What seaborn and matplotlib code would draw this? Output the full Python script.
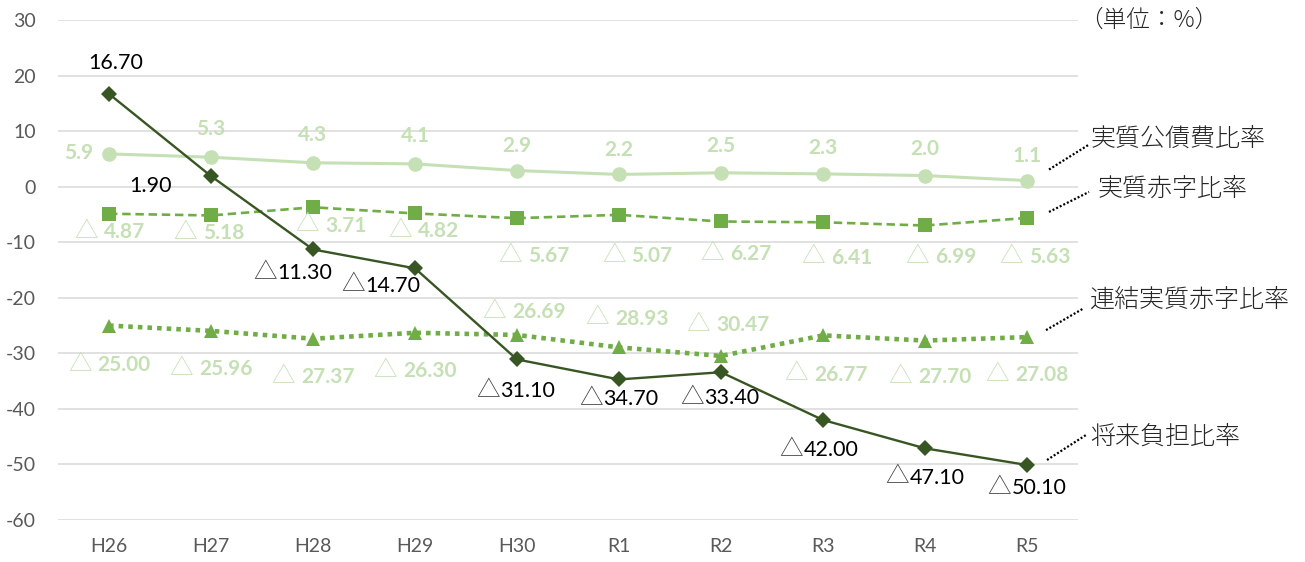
import numpy as np
import pandas as pd
import matplotlib
matplotlib.use("Agg")
import matplotlib.pyplot as plt
import seaborn as sns
from matplotlib.offsetbox import TextArea, HPacker, AnnotationBbox
from matplotlib.lines import Line2D

# ---------------- data ----------------
years = ["H26", "H27", "H28", "H29", "H30", "R1", "R2", "R3", "R4", "R5"]
future_burden = [16.70, 1.90, -11.30, -14.70, -31.10, -34.70, -33.40, -42.00, -47.10, -50.10]
debt_service = [5.9, 5.3, 4.3, 4.1, 2.9, 2.2, 2.5, 2.3, 2.0, 1.1]
real_deficit = [-4.87, -5.18, -3.71, -4.82, -5.67, -5.07, -6.27, -6.41, -6.99, -5.63]
consolidated_deficit = [-25.00, -25.96, -27.37, -26.30, -26.69, -28.93, -30.47, -26.77, -27.70, -27.08]
series_names = ["実質公債費比率", "実質赤字比率", "連結実質赤字比率", "将来負担比率"]
y_ticks = [30, 20, 10, 0, -10, -20, -30, -40, -50, -60]
unit_label = "（単位：%）"

# ---------------- label placement (pixel offsets: dx right, dy down) ----------------
off_future = [(7, -30), (-60, 11), (-20, 24), (-34, 18), (-1, 32), (0, 20), (-1, 27), (-4, 31), (0, 30), (0, 24)]
off_debt = [(-30, 0), (0, -27), (0, -27), (0, -27), (0, -24), (0, -23), (0, -26), (0, -25), (0, -26), (0, -24)]
off_deficit = [(1, 19), (-2, 18), (18, 19), (9, 18), (17, 39), (18, 42), (15, 33), (14, 36), (16, 32), (8, 40)]
off_consol = [(0, 40), (0, 39), (0, 39), (0, 39), (7, -22), (8, -28), (7, -30), (3, 40), (5, 37), (0, 39)]
leader_offsets = [((22, -11), (62, -36)), ((22, -6), (62, -26)), ((19, -7), (57, -29)), ((20, -5), (59, -30))]
name_pos = [(1091, 139), (1098, 189), (1090, 299), (1090, 436)]

# ---------------- style ----------------
DARK = "#375623"
MID = "#70AD47"
LIGHT = "#C5E0B4"
GRID = "#D9D9D9"
TICK = "#595959"
NUM = "Lato"
CJK = "Noto Sans CJK JP"

sns.set_theme(style="white")
plt.rcParams["font.family"] = [NUM, CJK, "DejaVu Sans"]
plt.rcParams["axes.unicode_minus"] = False

W, H, DPI = 1305, 562, 100
fig = plt.figure(figsize=(W / DPI, H / DPI), dpi=DPI)
ax = fig.add_axes([58 / W, 1 - 520 / H, (1078 - 58) / W, (520 - 20) / H])

x = np.arange(len(years))
df = pd.DataFrame({
    "x": x,
    "future": future_burden,
    "debt": debt_service,
    "deficit": real_deficit,
    "consol": consolidated_deficit,
})

sns.lineplot(data=df, x="x", y="debt", ax=ax, color=LIGHT, linewidth=2.2,
             marker="o", markersize=10.5, markeredgecolor=LIGHT, markeredgewidth=0,
             errorbar=None, zorder=3)
sns.lineplot(data=df, x="x", y="deficit", ax=ax, color=MID, linewidth=1.9,
             linestyle=(0, (3.2, 1.8)), marker="s", markersize=9.5,
             markeredgecolor=MID, markeredgewidth=0, errorbar=None, zorder=3)
sns.lineplot(data=df, x="x", y="consol", ax=ax, color=MID, linewidth=3.3,
             linestyle=(0, (1, 1.1)), marker="^", markersize=10.5,
             markeredgecolor=MID, markeredgewidth=0, errorbar=None, zorder=3)
sns.lineplot(data=df, x="x", y="future", ax=ax, color=DARK, linewidth=1.7,
             marker="D", markersize=8, markeredgecolor=DARK, markeredgewidth=0,
             errorbar=None, zorder=5)

ax.set_xlim(-0.5, len(years) - 0.5)
ax.set_ylim(-60, 30)
ax.set_yticks(y_ticks)
ax.set_yticklabels([str(t) for t in y_ticks])
ax.set_xticks(x)
ax.set_xticklabels(years)
ax.set_xlabel("")
ax.set_ylabel("")
ax.tick_params(axis="y", length=0, pad=16, labelsize=14, labelcolor=TICK)
ax.tick_params(axis="x", length=0, pad=13, labelsize=14, labelcolor=TICK)
for s in ax.spines.values():
    s.set_visible(False)
ax.grid(False)
for t in y_ticks:
    ax.axhline(t, color=GRID, linewidth=1.1, zorder=0)

PX = 72 / DPI


def add_label(xv, yv, text, neg, color, weight, size, tri_color, tri_size, sep, off, z):
    children = []
    if neg:
        children.append(TextArea("△", textprops=dict(color=tri_color, fontsize=tri_size,
                                                        family=[CJK], fontweight="light")))
    children.append(TextArea(text, textprops=dict(color=color, fontsize=size,
                                                   family=[NUM], fontweight=weight)))
    box = HPacker(children=children, align="baseline", pad=0, sep=sep)
    ab = AnnotationBbox(box, (xv, yv), xybox=(off[0] * PX, -off[1] * PX),
                        xycoords="data", boxcoords="offset points", frameon=False,
                        box_alignment=(0.5, 0.45), pad=0, annotation_clip=False, zorder=z)
    ax.add_artist(ab)


for i, v in enumerate(future_burden):
    add_label(x[i], v, f"{abs(v):.2f}", v < 0, "black", "normal", 15.5, "#404040", 17, 0, off_future[i], 6)
for i, v in enumerate(debt_service):
    add_label(x[i], v, f"{v:.1f}", v < 0, LIGHT, "bold", 15, LIGHT, 17, 4, off_debt[i], 4)
for i, v in enumerate(real_deficit):
    add_label(x[i], v, f"{abs(v):.2f}", v < 0, LIGHT, "bold", 15, LIGHT, 17, 4, off_deficit[i], 4)
for i, v in enumerate(consolidated_deficit):
    add_label(x[i], v, f"{abs(v):.2f}", v < 0, LIGHT, "bold", 15, LIGHT, 17, 4, off_consol[i], 4)

# leader lines and series names on the right
fig.canvas.draw()
last_vals = [debt_service[-1], real_deficit[-1], consolidated_deficit[-1], future_burden[-1]]
for (s_off, e_off), lv in zip(leader_offsets, last_vals):
    px, py = ax.transData.transform((x[-1], lv))
    p1 = (px + s_off[0], py - s_off[1])
    p2 = (px + e_off[0], py - e_off[1])
    ln = Line2D([p1[0], p2[0]], [p1[1], p2[1]], transform=None, color="black",
                linewidth=1.6, linestyle=(0, (0.9, 0.9)))
    fig.add_artist(ln)

for name, (nx, ny) in zip(series_names, name_pos):
    fig.text(nx / W, 1 - ny / H, name, ha="left", va="center", fontsize=18,
             family=[CJK], fontweight="light", color="#262626")
fig.text(1079 / W, 1 - 20 / H, unit_label, ha="left", va="center", fontsize=17,
         family=[CJK], fontweight="light", color="#262626")

fig.savefig("out.png", dpi=DPI)
